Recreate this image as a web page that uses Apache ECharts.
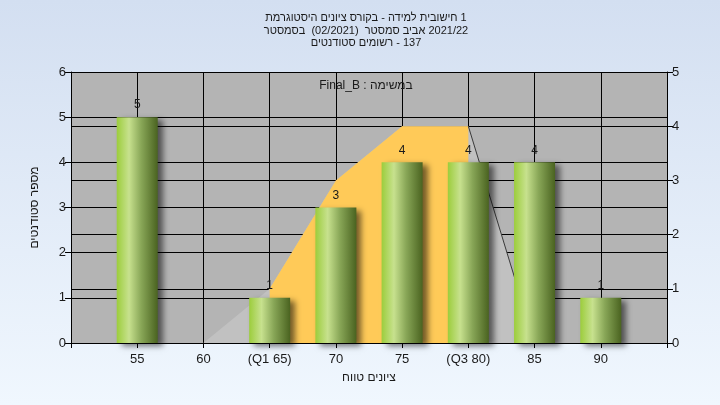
<!DOCTYPE html>
<html>
<head>
<meta charset="utf-8">
<script src="https://cdn.jsdelivr.net/npm/echarts@6/dist/echarts.min.js"></script>
<style>
html,body{margin:0;padding:0;}
#chart{width:720px;height:405px;}
</style>
</head>
<body>
<div id="chart"></div>
<script>
// ---- data ----
const categories = ['50', '55', '60', '65', '70', '75', '80', '85', '90', '95'];
const tickLabels = ['', '55', '60', '(Q1 65)', '70', '75', '(Q3 80)', '85', '90', ''];
const studentCounts = [null, 5, 0, 1, 3, 4, 4, 4, 1, null];
const curveValues = [null, null, 0, 1, 3, 4, 4, 0, null, null];
const iqrValues = [null, null, null, 1, 3, 4, 4, null, null, null];
const curveEdge = [null, null, null, null, null, null, 4, 0, null, null];
// title lines: words in the reference's visual left-to-right order
const titleWords = [
  ['היסטוגרמת', 'ציונים', 'בקורס', '-', 'למידה', 'חישובית', '1'],
  ['בסמסטר', ' (02/2021) ', 'סמסטר', 'אביב', '2021/22'],
  ['סטודנטים', 'רשומים', '-', '137']
];
const legendText = 'Final_B : במשימה';
const xAxisWords = ['טווח', 'ציונים'];
const yAxisName = 'מספר סטודנטים';

// keep each word RTL inside, but lay the words out left to right
const LRM = '\u200e';
const ltrWords = words => '\u202A' + LRM + words.join(LRM + ' ') + LRM + '\u202C';

const FONT = 'Arial, "Liberation Sans", sans-serif';
const chart = echarts.init(document.getElementById('chart'), null, {renderer: 'canvas'});

const option = {
  animation: false,
  backgroundColor: {
    type: 'linear', x: 0, y: 0, x2: 0, y2: 1,
    colorStops: [{offset: 0, color: '#d3dff1'}, {offset: 1, color: '#f0f7fe'}]
  },
  graphic: [
    {
      type: 'text', x: 366, y: 12, z: 100,
      style: {
        text: titleWords.map(ltrWords).join('\n'), fill: '#1a1a1a', font: '11px ' + FONT,
        textAlign: 'center', textVerticalAlign: 'top', lineHeight: 12.5
      }
    },
    {
      type: 'text', x: 366, y: 86, z: 100,
      style: {
        text: '\u202A' + legendText + '\u202C', fill: '#1a1a1a', font: '12px ' + FONT,
        textAlign: 'center', textVerticalAlign: 'middle'
      }
    }
  ],
  grid: {
    left: 71, right: 53, top: 72, bottom: 62,
    show: true, backgroundColor: '#b4b4b4', borderWidth: 0
  },
  xAxis: {
    type: 'category',
    data: categories,
    boundaryGap: false,
    name: ltrWords(xAxisWords),
    nameLocation: 'middle',
    nameGap: 29,
    nameTextStyle: {color: '#1a1a1a', fontSize: 12, fontFamily: FONT},
    axisLine: {show: true, lineStyle: {color: '#000', width: 1}},
    axisTick: {show: true, length: 5, interval: 0, lineStyle: {color: '#000'}},
    axisLabel: {
      interval: 0, color: '#1a1a1a', fontSize: 13, fontFamily: FONT, margin: 10,
      formatter: (v, i) => tickLabels[i]
    },
    splitLine: {show: true, interval: 0, lineStyle: {color: '#000', width: 1}}
  },
  yAxis: [
    {
      type: 'value', min: 0, max: 6, interval: 1, position: 'left',
      name: yAxisName, nameLocation: 'middle', nameGap: 30, nameRotate: 90,
      nameTextStyle: {color: '#1a1a1a', fontSize: 12, fontFamily: FONT},
      axisLine: {show: true, lineStyle: {color: '#000', width: 1}},
      axisTick: {show: true, length: 6, lineStyle: {color: '#000'}},
      axisLabel: {color: '#1a1a1a', fontSize: 13, fontFamily: FONT, margin: 5},
      splitLine: {show: true, lineStyle: {color: '#000', width: 1}}
    },
    {
      type: 'value', min: 0, max: 5, interval: 1, position: 'right',
      axisLine: {show: true, lineStyle: {color: '#000', width: 1}},
      axisTick: {show: true, length: 6, lineStyle: {color: '#000'}},
      axisLabel: {color: '#1a1a1a', fontSize: 13, fontFamily: FONT, margin: 5},
      splitLine: {show: true, lineStyle: {color: '#000', width: 1}}
    }
  ],
  series: [
    {
      type: 'line', yAxisIndex: 1, data: curveValues, z: 1,
      symbol: 'none', connectNulls: false,
      lineStyle: {width: 0, opacity: 0},
      areaStyle: {color: '#c1c1c1', opacity: 1}
    },
    {
      type: 'line', yAxisIndex: 1, data: iqrValues, z: 2,
      symbol: 'none', connectNulls: false,
      lineStyle: {width: 0, opacity: 0},
      areaStyle: {color: '#ffca58', opacity: 1}
    },
    {
      type: 'line', yAxisIndex: 1, data: curveEdge, z: 3,
      symbol: 'none', connectNulls: false,
      lineStyle: {width: 1, color: '#3a3a3a'}
    },
    {
      type: 'bar', yAxisIndex: 0, data: studentCounts, z: 5,
      barWidth: 41,
      itemStyle: {
        color: {
          type: 'linear', x: 0, y: 0, x2: 1, y2: 0,
          colorStops: [
            {offset: 0, color: '#9ccd3c'},
            {offset: 0.3, color: '#c7e18e'},
            {offset: 0.6, color: '#88a657'},
            {offset: 1, color: '#4a6320'}
          ]
        },
        shadowColor: 'rgba(0,0,0,0.55)',
        shadowBlur: 6,
        shadowOffsetX: 5,
        shadowOffsetY: 3
      },
      label: {
        show: true, position: 'top', distance: 6,
        color: '#1a1a1a', fontSize: 12, fontFamily: FONT,
        formatter: p => (p.value ? String(p.value) : '')
      }
    }
  ]
};
chart.setOption(option);
</script>
</body>
</html>
